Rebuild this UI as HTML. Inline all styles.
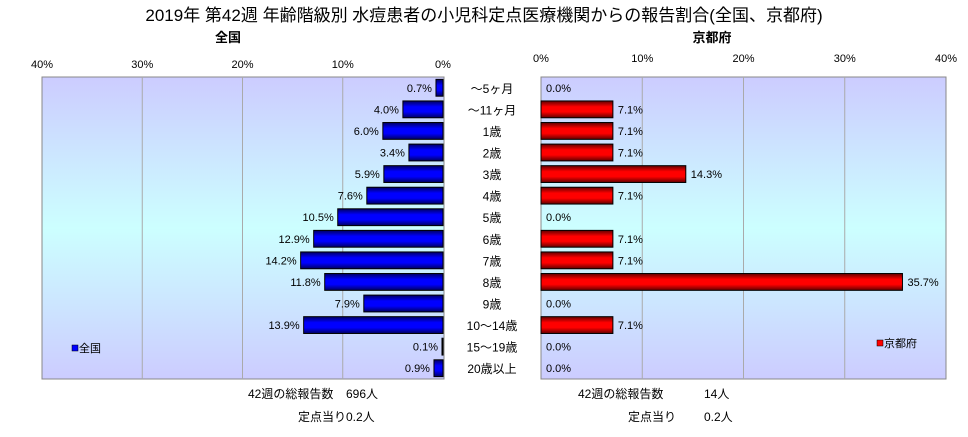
<!DOCTYPE html>
<html><head><meta charset="utf-8"><style>
body{margin:0;background:#fff;font-family:"Liberation Sans","Noto Sans CJK JP",sans-serif}
svg text{font-family:"Liberation Sans","Noto Sans CJK JP",sans-serif}
</style></head><body>
<svg id="c" width="968" height="432">
<defs>
<linearGradient id="bg" x1="0" y1="0" x2="0" y2="1">
<stop offset="0" stop-color="#ccccff"/><stop offset="0.5" stop-color="#ccffff"/><stop offset="1" stop-color="#ccccff"/></linearGradient>
<linearGradient id="gb" x1="0" y1="0" x2="0" y2="1">
<stop offset="0" stop-color="#000060"/><stop offset="0.35" stop-color="#0000ff"/><stop offset="0.65" stop-color="#0000ff"/><stop offset="1" stop-color="#000060"/></linearGradient>
<linearGradient id="gr" x1="0" y1="0" x2="0" y2="1">
<stop offset="0" stop-color="#600000"/><stop offset="0.35" stop-color="#ff0000"/><stop offset="0.65" stop-color="#ff0000"/><stop offset="1" stop-color="#600000"/></linearGradient>
</defs>
<text x="484" y="21" font-size="17" text-anchor="middle">2019年 第42週 年齢階級別 水痘患者の小児科定点医療機関からの報告割合(全国、京都府)</text>
<text x="228" y="42" font-size="13" font-weight="bold" text-anchor="middle">全国</text>
<text x="712" y="42" font-size="13" font-weight="bold" text-anchor="middle">京都府</text>
<rect x="42" y="77" width="402" height="302" fill="url(#bg)" stroke="#888"/>
<rect x="541" y="77" width="405" height="302" fill="url(#bg)" stroke="#888"/>
<g id="g"></g>
<rect x="72" y="345" width="6" height="6" fill="#0000ff" stroke="#000" stroke-width="0.5"/>
<text x="79" y="352" font-size="11">全国</text>
<rect x="877" y="340" width="6" height="6" fill="#ff0000" stroke="#000" stroke-width="0.5"/>
<text x="884" y="347" font-size="11">京都府</text>
<text x="248" y="398" font-size="12">42週の総報告数</text>
<text x="346" y="398" font-size="12">696人</text>
<text x="298" y="421" font-size="12">定点当り</text>
<text x="346" y="421" font-size="12">0.2人</text>
<text x="578" y="398" font-size="12">42週の総報告数</text>
<text x="704" y="398" font-size="12">14人</text>
<text x="628" y="421" font-size="12">定点当り</text>
<text x="704" y="421" font-size="12">0.2人</text>
</svg>
<script>
const categories=["～5ヶ月","～11ヶ月","1歳","2歳","3歳","4歳","5歳","6歳","7歳","8歳","9歳","10～14歳","15～19歳","20歳以上"];
const nationalValues=[0.7,4.0,6.0,3.4,5.9,7.6,10.5,12.9,14.2,11.8,7.9,13.9,0.1,0.9];
const kyotoValues=[0.0,7.1,7.1,7.1,14.3,7.1,0.0,7.1,7.1,35.7,0.0,7.1,0.0,0.0];
const ticks=[0,10,20,30,40];
const NS="http://www.w3.org/2000/svg",g=document.getElementById('g');
const top0=77,plotH=302,rowH=plotH/categories.length,barH=rowH*0.78;
const xL=v=>443-v*(401/40), xR=v=>541+v*(405/40), yC=i=>top0+rowH*(i+0.5);
function mk(t,a,txt){const e=document.createElementNS(NS,t);for(const k in a)e.setAttribute(k,a[k]);if(txt!=null)e.textContent=txt;g.appendChild(e);return e;}
ticks.forEach(t=>{
 if(t>0&&t<40){let l=mk('line',{x1:xL(t),x2:xL(t),y1:77,y2:379,stroke:'#aaa'});
 
 l=mk('line',{x1:xR(t),x2:xR(t),y1:77,y2:379,stroke:'#aaa'});
 }
 let a=mk('text',{x:xL(t),y:68,'font-size':11,'text-anchor':'middle'},t+'%');
 
 a=mk('text',{x:xR(t),y:62,'font-size':11,'text-anchor':'middle'},t+'%');
 
});
categories.forEach((c,i)=>{
 const y=yC(i);
 let t=mk('text',{x:492,y:y+5,'font-size':12,'text-anchor':'middle'},c);
 
 const v=nationalValues[i];
 let b=mk('rect',{x:xL(v),y:y-barH/2,width:443-xL(v),height:barH,fill:'url(#gb)',stroke:'#000','stroke-width':1});
 
 t=mk('text',{x:xL(v)-4,y:y+4,'font-size':11,'text-anchor':'end'},v.toFixed(1)+'%');
 
 const k=kyotoValues[i];
 if(k>0){b=mk('rect',{x:541,y:y-barH/2,width:xR(k)-541,height:barH,fill:'url(#gr)',stroke:'#000','stroke-width':1});
 }
 t=mk('text',{x:xR(k)+5,y:y+4,'font-size':11},k.toFixed(1)+'%');
 
});
</script>
</body></html>
